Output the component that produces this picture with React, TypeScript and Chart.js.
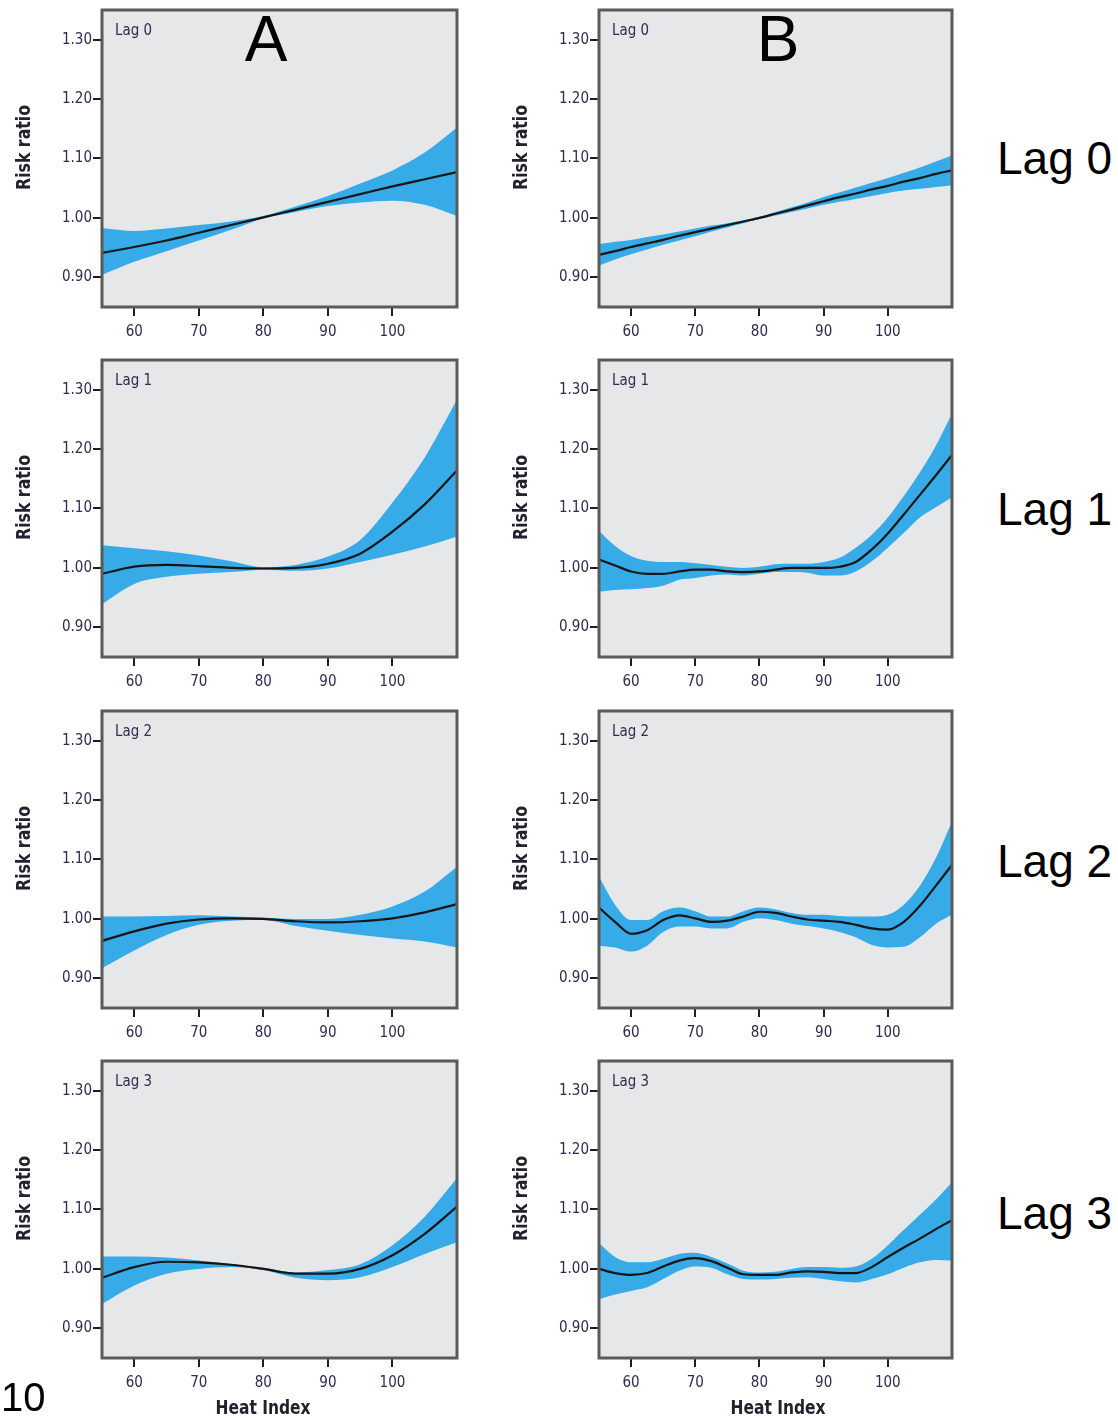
import React, { useEffect, useRef } from "react";
import { Chart, registerables } from "chart.js";

Chart.register(...registerables);

// ---------- data ----------
const heatIndexA = [55, 60, 65, 70, 75, 80, 85, 90, 95, 100, 105, 110];
const heatIndexB = [55, 57.5, 60, 62.5, 65, 67.5, 70, 72.5, 75, 77.5, 80, 82.5, 85, 87.5, 90, 92.5, 95, 97.5, 100, 102.5, 105, 107.5, 110];

const xTickValues = [60, 70, 80, 90, 100];
const yTickValues = [0.9, 1.0, 1.1, 1.2, 1.3];

// Column A
const aLag0Mid = [0.941, 0.951, 0.962, 0.975, 0.988, 1.001, 1.014, 1.027, 1.040, 1.053, 1.065, 1.077];
const aLag0Up = [0.983, 0.978, 0.982, 0.988, 0.994, 1.003, 1.019, 1.037, 1.058, 1.080, 1.110, 1.152];
const aLag0Lo = [0.904, 0.926, 0.944, 0.962, 0.980, 0.999, 1.010, 1.020, 1.026, 1.029, 1.022, 1.003];

const aLag1Mid = [0.990, 1.002, 1.005, 1.003, 1.000, 0.999, 1.000, 1.007, 1.024, 1.061, 1.107, 1.164];
const aLag1Up = [1.038, 1.033, 1.028, 1.021, 1.011, 1.001, 1.005, 1.019, 1.047, 1.110, 1.186, 1.283];
const aLag1Lo = [0.939, 0.973, 0.985, 0.990, 0.993, 0.997, 0.995, 0.999, 1.010, 1.022, 1.036, 1.053];

const aLag2Mid = [0.963, 0.979, 0.992, 0.999, 1.001, 1.000, 0.996, 0.994, 0.996, 1.001, 1.011, 1.025];
const aLag2Up = [1.004, 1.004, 1.005, 1.006, 1.004, 1.002, 1.000, 1.000, 1.007, 1.021, 1.046, 1.088];
const aLag2Lo = [0.917, 0.947, 0.973, 0.990, 0.997, 0.998, 0.988, 0.980, 0.973, 0.967, 0.962, 0.952];

const aLag3Mid = [0.985, 1.003, 1.012, 1.011, 1.007, 1.000, 0.992, 0.992, 1.000, 1.023, 1.059, 1.105];
const aLag3Up = [1.021, 1.021, 1.019, 1.014, 1.008, 1.002, 0.994, 0.998, 1.008, 1.040, 1.088, 1.153];
const aLag3Lo = [0.941, 0.972, 0.992, 1.000, 1.003, 0.998, 0.985, 0.981, 0.986, 1.003, 1.025, 1.045];

// Column B
const bLag0Mid = [0.938, 0.944, 0.951, 0.957, 0.963, 0.970, 0.976, 0.982, 0.988, 0.994, 1.000, 1.007, 1.014, 1.021, 1.028, 1.035, 1.041, 1.048, 1.054, 1.061, 1.067, 1.074, 1.080];
const bLag0Up = [0.956, 0.960, 0.963, 0.968, 0.972, 0.977, 0.982, 0.987, 0.991, 0.996, 1.002, 1.010, 1.018, 1.026, 1.035, 1.043, 1.051, 1.059, 1.067, 1.076, 1.085, 1.095, 1.105];
const bLag0Lo = [0.920, 0.930, 0.939, 0.947, 0.955, 0.962, 0.969, 0.977, 0.984, 0.991, 0.998, 1.004, 1.010, 1.016, 1.022, 1.027, 1.032, 1.037, 1.042, 1.046, 1.049, 1.052, 1.055];

const bLag1Mid = [1.014, 1.004, 0.994, 0.990, 0.990, 0.994, 0.997, 0.997, 0.994, 0.993, 0.994, 0.997, 1.000, 1.000, 1.000, 1.002, 1.010, 1.031, 1.058, 1.090, 1.123, 1.156, 1.190];
const bLag1Up = [1.062, 1.037, 1.020, 1.012, 1.010, 1.010, 1.008, 1.005, 1.002, 1.000, 1.002, 1.006, 1.007, 1.007, 1.010, 1.017, 1.034, 1.056, 1.085, 1.121, 1.161, 1.206, 1.260];
const bLag1Lo = [0.960, 0.963, 0.964, 0.966, 0.970, 0.980, 0.983, 0.987, 0.989, 0.987, 0.990, 0.993, 0.993, 0.992, 0.987, 0.987, 0.994, 1.011, 1.034, 1.059, 1.085, 1.102, 1.119];

const bLag2Mid = [1.019, 0.995, 0.975, 0.981, 0.998, 1.006, 1.001, 0.995, 0.997, 1.004, 1.012, 1.010, 1.004, 0.999, 0.997, 0.995, 0.990, 0.984, 0.982, 0.995, 1.022, 1.056, 1.091];
const bLag2Up = [1.071, 1.024, 0.998, 0.998, 1.013, 1.019, 1.013, 1.004, 1.004, 1.013, 1.019, 1.016, 1.010, 1.007, 1.007, 1.005, 1.004, 1.004, 1.007, 1.024, 1.056, 1.103, 1.164];
const bLag2Lo = [0.955, 0.952, 0.945, 0.955, 0.978, 0.987, 0.987, 0.984, 0.984, 0.995, 1.001, 0.998, 0.992, 0.988, 0.984, 0.978, 0.969, 0.956, 0.952, 0.953, 0.969, 0.992, 1.007];

const bLag3Mid = [1.000, 0.993, 0.990, 0.993, 1.004, 1.014, 1.018, 1.013, 1.002, 0.991, 0.990, 0.990, 0.994, 0.996, 0.995, 0.993, 0.993, 1.003, 1.020, 1.036, 1.051, 1.067, 1.082];
const bLag3Up = [1.043, 1.020, 1.011, 1.011, 1.017, 1.025, 1.027, 1.020, 1.009, 0.997, 0.994, 0.995, 1.000, 1.003, 1.003, 1.002, 1.004, 1.017, 1.040, 1.066, 1.091, 1.117, 1.146];
const bLag3Lo = [0.949, 0.957, 0.963, 0.969, 0.983, 0.997, 1.004, 1.002, 0.991, 0.983, 0.982, 0.983, 0.985, 0.986, 0.983, 0.979, 0.977, 0.983, 0.991, 1.002, 1.011, 1.015, 1.014];

const lagLabels = ["Lag 0", "Lag 1", "Lag 2", "Lag 3"];
const columnLetters = ["A", "B"];
const yTitle = "Risk ratio";
const xTitle = "Heat Index";

// ---------- layout ----------
const NARROW = '"Liberation Sans Narrow", "DejaVu Sans Condensed", "Roboto Condensed", sans-serif';
const ARIAL = '"Liberation Sans", Arial, Helvetica, sans-serif';
const PLOT_LEFT = [102, 599];
const PLOT_RIGHT = [457, 952];
const PLOT_TOP = [10, 360, 711, 1061];
const PLOT_H = 297;
const Y_AXIS_W = 102;
const X_AXIS_H = 60;
const PAD_TOP = 10;
const PAD_RIGHT = 15;
const X_TITLE_CENTER = [263, 778];

const BAND = "#37abe8";
const LINE = "#161616";
const BG = "#e6e7e9";
const FRAME = "#5a5a5a";
const TICKTEXT = "#2d2b4e";

type PanelCfg = {
  col: number;
  row: number;
  xs: number[];
  mid: number[];
  up: number[];
  lo: number[];
};

const panels: PanelCfg[] = [
  { col: 0, row: 0, xs: heatIndexA, mid: aLag0Mid, up: aLag0Up, lo: aLag0Lo },
  { col: 0, row: 1, xs: heatIndexA, mid: aLag1Mid, up: aLag1Up, lo: aLag1Lo },
  { col: 0, row: 2, xs: heatIndexA, mid: aLag2Mid, up: aLag2Up, lo: aLag2Lo },
  { col: 0, row: 3, xs: heatIndexA, mid: aLag3Mid, up: aLag3Up, lo: aLag3Lo },
  { col: 1, row: 0, xs: heatIndexB, mid: bLag0Mid, up: bLag0Up, lo: bLag0Lo },
  { col: 1, row: 1, xs: heatIndexB, mid: bLag1Mid, up: bLag1Up, lo: bLag1Lo },
  { col: 1, row: 2, xs: heatIndexB, mid: bLag2Mid, up: bLag2Up, lo: bLag2Lo },
  { col: 1, row: 3, xs: heatIndexB, mid: bLag3Mid, up: bLag3Up, lo: bLag3Lo },
];

function drawStretched(
  ctx: CanvasRenderingContext2D,
  text: string,
  x: number,
  y: number,
  font: string,
  color: string,
  width: number,
  align: CanvasTextAlign,
  rotate = 0
) {
  ctx.save();
  ctx.font = font;
  ctx.fillStyle = color;
  ctx.textBaseline = "middle";
  ctx.textAlign = align;
  const w = ctx.measureText(text).width;
  const s = width > 0 && w > 0 ? width / w : 1;
  ctx.translate(x, y);
  if (rotate) ctx.rotate(rotate);
  ctx.scale(s, 1);
  ctx.fillText(text, 0, 0);
  ctx.restore();
}

function Panel({ cfg }: { cfg: PanelCfg }) {
  const ref = useRef<HTMLCanvasElement | null>(null);
  const plotW = PLOT_RIGHT[cfg.col] - PLOT_LEFT[cfg.col];
  const canvasLeft = PLOT_LEFT[cfg.col] - Y_AXIS_W;
  const canvasTop = PLOT_TOP[cfg.row] - PAD_TOP;
  const w = Y_AXIS_W + plotW + PAD_RIGHT;
  const h = PAD_TOP + PLOT_H + X_AXIS_H;

  useEffect(() => {
    if (!ref.current) return;
    const toPts = (arr: number[]) => cfg.xs.map((x, i) => ({ x, y: arr[i] }));
    const isBottom = cfg.row === 3;
    const framePlugin = {
      id: "frame" + cfg.col + cfg.row,
      beforeDraw(chart: any) {
        const { ctx, chartArea: a } = chart;
        ctx.save();
        ctx.fillStyle = BG;
        ctx.fillRect(a.left, a.top, a.right - a.left, a.bottom - a.top);
        ctx.restore();
      },
      afterDraw(chart: any) {
        const { ctx, chartArea: a } = chart;
        ctx.save();
        ctx.strokeStyle = FRAME;
        ctx.lineWidth = 3;
        ctx.strokeRect(a.left, a.top, a.right - a.left, a.bottom - a.top);
        ctx.restore();
        drawStretched(ctx, lagLabels[cfg.row], a.left + 13, a.top + 21, `16px ${NARROW}`, TICKTEXT, 37, "left");
        drawStretched(ctx, yTitle, 24.5, (a.top + a.bottom) / 2 - 11, `bold 20px ${NARROW}`, "#22222e", 85, "center", -Math.PI / 2);
        if (isBottom) {
          drawStretched(ctx, xTitle, X_TITLE_CENTER[cfg.col] - canvasLeft, 1409 - canvasTop, `bold 19px ${NARROW}`, "#22222e", 95, "center");
        }
      },
    };

    const gridOpts = {
      drawOnChartArea: false,
      drawTicks: true,
      tickLength: 9,
      color: "#1e1e1e",
      lineWidth: 2,
    };

    const chart = new Chart(ref.current, {
      type: "line",
      data: {
        datasets: [
          {
            data: toPts(cfg.mid),
            borderColor: LINE,
            borderWidth: 2.2,
            pointRadius: 0,
            fill: false,
            cubicInterpolationMode: "monotone",
          },
          {
            data: toPts(cfg.up),
            borderColor: "rgba(0,0,0,0)",
            borderWidth: 0,
            backgroundColor: BAND,
            pointRadius: 0,
            fill: "+1",
            cubicInterpolationMode: "monotone",
          },
          {
            data: toPts(cfg.lo),
            borderColor: "rgba(0,0,0,0)",
            borderWidth: 0,
            pointRadius: 0,
            fill: false,
            cubicInterpolationMode: "monotone",
          },
        ],
      },
      options: {
        animation: false,
        responsive: false,
        maintainAspectRatio: false,
        events: [],
        layout: { padding: { top: PAD_TOP, right: PAD_RIGHT, left: 0, bottom: 0 } },
        plugins: { legend: { display: false }, tooltip: { enabled: false }, title: { display: false } },
        scales: {
          x: {
            type: "linear",
            position: "bottom",
            min: 55,
            max: 110,
            afterBuildTicks: (s: any) => {
              s.ticks = xTickValues.map((v) => ({ value: v }));
            },
            afterFit: (s: any) => {
              s.height = X_AXIS_H;
            },
            grid: gridOpts,
            border: { display: false },
            ticks: {
              autoSkip: false,
              maxRotation: 0,
              padding: 7,
              color: TICKTEXT,
              font: { family: NARROW, size: 15 },
              callback: (v: any) => String(v),
            },
          },
          y: {
            type: "linear",
            position: "left",
            min: 0.85,
            max: 1.35,
            afterBuildTicks: (s: any) => {
              s.ticks = yTickValues.map((v) => ({ value: v }));
            },
            afterFit: (s: any) => {
              s.width = Y_AXIS_W;
            },
            grid: gridOpts,
            border: { display: false },
            ticks: {
              autoSkip: false,
              padding: 1,
              color: TICKTEXT,
              font: { family: NARROW, size: 15 },
              callback: (v: any) => Number(v).toFixed(2),
            },
          },
        },
      },
      plugins: [framePlugin],
    } as any);
    return () => chart.destroy();
  }, []);

  return (
    <canvas
      ref={ref}
      width={w}
      height={h}
      style={{ position: "absolute", left: canvasLeft, top: canvasTop, width: w, height: h }}
    />
  );
}

const rightLabelCenters = [157, 508, 860, 1212];

export default function App() {
  return (
    <div style={{ position: "absolute", left: 0, top: 0, width: 1118, height: 1418, background: "#ffffff", overflow: "hidden" }}>
      {panels.map((p, i) => (
        <Panel key={i} cfg={p} />
      ))}
      {columnLetters.map((l, i) => (
        <div
          key={l}
          style={{
            position: "absolute",
            left: (i === 0 ? 266 : 778) - 50,
            top: 6.6,
            width: 100,
            textAlign: "center",
            fontFamily: ARIAL,
            fontSize: 64,
            lineHeight: "64px",
            color: "#000",
          }}
        >
          {l}
        </div>
      ))}
      {lagLabels.map((l, i) => (
        <div
          key={l}
          style={{
            position: "absolute",
            left: 997,
            top: rightLabelCenters[i] - 22.5,
            fontFamily: ARIAL,
            fontSize: 46,
            lineHeight: "46px",
            color: "#000",
            whiteSpace: "nowrap",
          }}
        >
          {l}
        </div>
      ))}
      <div
        style={{
          position: "absolute",
          left: 1,
          top: 1377,
          fontFamily: ARIAL,
          fontSize: 40,
          lineHeight: "40px",
          color: "#000",
        }}
      >
        10
      </div>
    </div>
  );
}
